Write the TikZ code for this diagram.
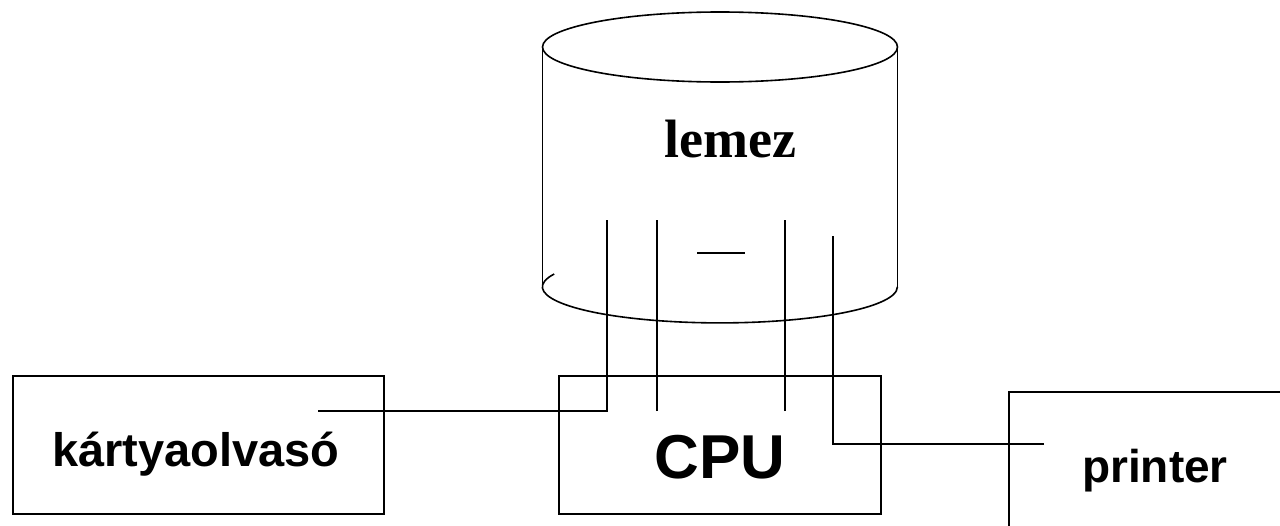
\documentclass[tikz,border=0pt]{standalone}
\usepackage{fontspec}
\setmainfont{Liberation Serif}
\setsansfont{Liberation Sans}
\usetikzlibrary{positioning}

\begin{document}
\begin{tikzpicture}[
        x=1pt, y=-1pt,
        box/.style={rectangle, draw=black, line width=1.6pt, fill=none, inner sep=0pt},
        wire/.style={draw=black, line width=1.6pt},
        boxlabel/.style={anchor=base, inner sep=0pt, font=\sffamily\bfseries\fontsize{47}{56}\selectfont},
        disklabel/.style={anchor=base, inner sep=0pt, font=\rmfamily\bfseries\fontsize{54}{64}\selectfont}
    ]
        \clip (0,0) rectangle (1280,525);

        % Disk
        \draw[wire] (720,47) ellipse [x radius=177.5, y radius=35];
        \draw[wire] (542.5,47) -- (542.5,287);
        \draw[wire] (897.5,47) -- (897.5,287);
        \draw[wire] (554.2,274) arc[start angle=201, end angle=0, x radius=177.5, y radius=36];
        \draw[line width=1.2pt] (697,253) -- (745,253);
        \node[disklabel] (lemez) at (730,157) {lemez};

        % Nodes
        \node[box, minimum width=371pt, minimum height=138pt] (kartya) at (198.5,445) {};
        \node[box, minimum width=322pt, minimum height=138pt] (cpu) at (720,445) {};
        \node[box, minimum width=291pt, minimum height=153pt] (printer) at (1154.5,468.5) {};
        \node[boxlabel] (kartyatxt) at (196,466) {kártyaolvasó};
        \node[boxlabel, font=\sffamily\bfseries\fontsize{62}{72}\selectfont] (cputxt) at (720,478) {CPU};
        \node[boxlabel, font=\sffamily\bfseries\fontsize{46}{54}\selectfont] (printertxt) at (1155,482) {printer};

        % Wire ends
        \coordinate (kin) at (318,411);
        \coordinate (cin1) at (657,411);
        \coordinate (cin2) at (785,411);
        \coordinate (pin) at (1044,444);
        \coordinate (d1) at (607,220);
        \coordinate (d2) at (657,220);
        \coordinate (d3) at (785,220);
        \coordinate (d4) at (833,236);

        % Connections
        \draw[wire] (kin) -| (d1);
        \draw[wire] (cin1) -- (d2);
        \draw[wire] (cin2) -- (d3);
        \draw[wire] (pin) -| (d4);
    \end{tikzpicture}
\end{document}
